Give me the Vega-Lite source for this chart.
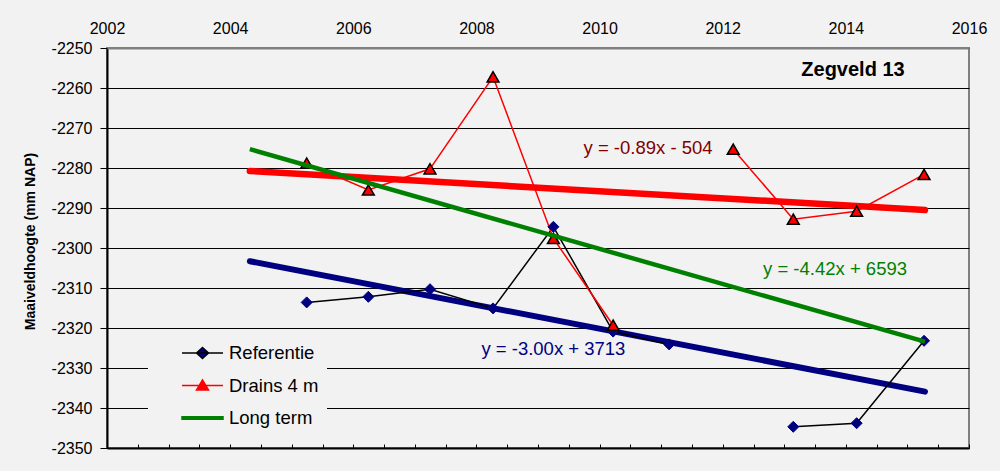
{
  "$schema": "https://vega.github.io/schema/vega-lite/v6.json",
  "width": 862,
  "height": 400,
  "autosize": {"type": "none"},
  "padding": {"left": 107, "top": 48, "right": 31, "bottom": 23},
  "background": "#f2f2f2",
  "config": {
    "view": {"stroke": "#808080", "strokeWidth": 2, "fill": "#f2f2f2"},
    "font": "Liberation Sans",
    "axis": {"labelFont": "Liberation Sans", "titleFont": "Liberation Sans", "labelColor": "black", "titleColor": "black"},
    "legend": {"labelFont": "Liberation Sans"}
  },
  "datasets": {
    "obs": [
      {"series": "Referentie", "seg": "a", "year": 2005.243, "value": -2313.6},
      {"series": "Referentie", "seg": "a", "year": 2006.245, "value": -2312.2},
      {"series": "Referentie", "seg": "a", "year": 2007.246, "value": -2310.3},
      {"series": "Referentie", "seg": "a", "year": 2008.27, "value": -2315.1},
      {"series": "Referentie", "seg": "a", "year": 2009.25, "value": -2294.7},
      {"series": "Referentie", "seg": "a", "year": 2010.22, "value": -2320.9},
      {"series": "Referentie", "seg": "a", "year": 2011.13, "value": -2324.1},
      {"series": "Referentie", "seg": "b", "year": 2013.146, "value": -2344.7},
      {"series": "Referentie", "seg": "b", "year": 2014.175, "value": -2343.8},
      {"series": "Referentie", "seg": "b", "year": 2015.27, "value": -2323.2},
      {"series": "Drains 4 m", "seg": "a", "year": 2005.243, "value": -2278.8},
      {"series": "Drains 4 m", "seg": "a", "year": 2006.245, "value": -2285.5},
      {"series": "Drains 4 m", "seg": "a", "year": 2007.246, "value": -2280.2},
      {"series": "Drains 4 m", "seg": "a", "year": 2008.27, "value": -2257.2},
      {"series": "Drains 4 m", "seg": "a", "year": 2009.25, "value": -2297.6},
      {"series": "Drains 4 m", "seg": "a", "year": 2010.22, "value": -2319.3},
      {"series": "Drains 4 m", "seg": "b", "year": 2012.17, "value": -2275.3},
      {"series": "Drains 4 m", "seg": "b", "year": 2013.146, "value": -2292.8},
      {"series": "Drains 4 m", "seg": "b", "year": 2014.175, "value": -2290.8},
      {"series": "Drains 4 m", "seg": "b", "year": 2015.27, "value": -2281.6}
    ],
    "trend": [
      {"trend": "Referentie", "year": 2004.32, "value": -2303.3},
      {"trend": "Referentie", "year": 2015.285, "value": -2335.9},
      {"trend": "Drains 4 m", "year": 2004.32, "value": -2280.75},
      {"trend": "Drains 4 m", "year": 2015.285, "value": -2290.5},
      {"trend": "Long term", "year": 2004.32, "value": -2275.3},
      {"trend": "Long term", "year": 2015.285, "value": -2323.4}
    ],
    "notes": [
      {"note": "Zegveld 13", "year": 2014.116, "value": -2257},
      {"note": "y = -0.89x - 504", "year": 2010.787, "value": -2274.9},
      {"note": "y = -4.42x + 6593", "year": 2013.824, "value": -2305.3},
      {"note": "y = -3.00x + 3713", "year": 2009.25, "value": -2325.3}
    ]
  },
  "resolve": {"axis": {"x": "independent", "y": "independent"}},
  "layer": [
    {
      "data": {"name": "trend"},
      "transform": [{"filter": "datum.trend === 'Referentie'"}],
      "mark": {"type": "line", "color": "#000080", "strokeWidth": 6, "strokeCap": "round"},
      "encoding": {
        "x": {"field": "year", "type": "quantitative",
              "scale": {"domain": [2002, 2016], "nice": false, "zero": false},
              "axis": {"orient": "top", "values": [2002, 2004, 2006, 2008, 2010, 2012, 2014, 2016],
                       "labelExpr": "'' + datum.value", "labelFontSize": 16, "ticks": false, "tickSize": 0,
                       "labelPadding": 12, "domain": true, "domainColor": "#808080", "domainWidth": 2, "zindex": 1,
                       "grid": false, "title": null, "labelFlush": false, "labelOverlap": false}},
        "y": {"field": "value", "type": "quantitative",
              "scale": {"domain": [-2350, -2250], "nice": false, "zero": false},
              "axis": {"orient": "left", "values": [-2250, -2260, -2270, -2280, -2290, -2300, -2310, -2320, -2330, -2340, -2350],
                       "labelExpr": "'' + datum.value", "labelFontSize": 16, "tickSize": 7, "tickColor": "black",
                       "labelPadding": 8, "domainColor": "black", "domainWidth": 2,
                       "grid": true, "gridWidth": 1, "gridColor": "black",
                       "title": "Maaiveldhoogte  (mm NAP)", "titleFontSize": 14, "titleFontWeight": "bold",
                       "titlePadding": 14, "titleY": 193, "labelOverlap": false}}
      }
    },
    {
      "data": {"name": "trend"},
      "transform": [{"filter": "datum.trend === 'Drains 4 m'"}],
      "mark": {"type": "line", "color": "#ff0000", "strokeWidth": 6.5, "strokeCap": "round"},
      "encoding": {
        "x": {"field": "year", "type": "quantitative",
              "axis": {"orient": "bottom", "values": [2002, 2002.5, 2003, 2003.5, 2004, 2004.5, 2005, 2005.5, 2006, 2006.5, 2007, 2007.5, 2008, 2008.5, 2009, 2009.5, 2010, 2010.5, 2011, 2011.5, 2012, 2012.5, 2013, 2013.5, 2014, 2014.5, 2015, 2015.5, 2016],
                       "labels": false, "ticks": true, "tickSize": -4, "tickColor": "black", "tickWidth": 1,
                       "domain": true, "domainColor": "black", "domainWidth": 2, "grid": false, "title": null}},
        "y": {"field": "value", "type": "quantitative", "axis": null}
      }
    },
    {
      "data": {"name": "obs"},
      "mark": {"type": "line", "strokeWidth": 1.5},
      "encoding": {
        "x": {"field": "year", "type": "quantitative", "axis": null},
        "y": {"field": "value", "type": "quantitative", "axis": null},
        "detail": {"field": "seg"},
        "color": {"field": "series", "type": "nominal",
                  "scale": {"domain": ["Referentie", "Drains 4 m", "Long term"], "range": ["#000000", "#ff0000", "#008000"]},
                  "legend": {
                    "orient": "none", "legendX": 41, "legendY": 286, "title": null,
                    "padding": 8, "fillColor": "#f2f2f2", "symbolOpacity": 1,
                    "symbolSize": 400, "symbolStrokeWidth": 1.5, "symbolOffset": 35.5,
                    "labelOffset": 15.5, "labelFontSize": 18.5, "labelColor": "black", "labelFont": "Liberation Sans",
                    "rowPadding": 11.5, "labelExpr": "datum.label + '    '"}}
      }
    },
    {
      "data": {"name": "obs"},
      "mark": {"type": "point", "filled": true, "opacity": 0},
      "encoding": {
        "x": {"field": "year", "type": "quantitative", "axis": null},
        "y": {"field": "value", "type": "quantitative", "axis": null},
        "shape": {"field": "series", "type": "nominal",
                  "scale": {"domain": ["Referentie", "Drains 4 m", "Long term"],
                            "range": ["M-2.05,0H2.05M-0.6,0L0,-0.55L0.6,0L0,0.55Z", "M-2.05,0H2.05M0,-0.55L0.6,0.45L-0.6,0.45Z", "M-2.05,-0.13H2.05V0.13H-2.05Z"]},
                  "legend": {
                    "orient": "none", "legendX": 41, "legendY": 286, "title": null,
                    "padding": 8, "fillColor": "#f2f2f2", "symbolOpacity": 1,
                    "symbolSize": 400, "symbolStrokeWidth": 1.5, "symbolOffset": 35.5,
                    "labelOffset": 15.5, "labelFontSize": 18.5, "labelColor": "black", "labelFont": "Liberation Sans",
                    "rowPadding": 11.5, "labelExpr": "datum.label + '    '"}},
        "fill": {"field": "series", "type": "nominal",
                  "scale": {"domain": ["Referentie", "Drains 4 m", "Long term"], "range": ["#000080", "#ff0000", "#008000"]},
                  "legend": {
                    "orient": "none", "legendX": 41, "legendY": 286, "title": null,
                    "padding": 8, "fillColor": "#f2f2f2", "symbolOpacity": 1,
                    "symbolSize": 400, "symbolStrokeWidth": 1.5, "symbolOffset": 35.5,
                    "labelOffset": 15.5, "labelFontSize": 18.5, "labelColor": "black", "labelFont": "Liberation Sans",
                    "rowPadding": 11.5, "labelExpr": "datum.label + '    '"}}
      }
    },
    {
      "data": {"name": "obs"},
      "transform": [{"filter": "datum.series === 'Referentie'"}],
      "mark": {"type": "point", "shape": "diamond", "filled": true, "fill": "#000080", "stroke": "#000080", "strokeWidth": 1, "size": 121, "opacity": 1},
      "encoding": {
        "x": {"field": "year", "type": "quantitative", "axis": null},
        "y": {"field": "value", "type": "quantitative", "axis": null}
      }
    },
    {
      "data": {"name": "obs"},
      "transform": [{"filter": "datum.series === 'Drains 4 m'"}],
      "mark": {"type": "point", "shape": "triangle-up", "filled": true, "fill": "#ff0000", "stroke": "#000000", "strokeWidth": 1.5, "size": 140, "opacity": 1},
      "encoding": {
        "x": {"field": "year", "type": "quantitative", "axis": null},
        "y": {"field": "value", "type": "quantitative", "axis": null}
      }
    },
    {
      "data": {"name": "trend"},
      "transform": [{"filter": "datum.trend === 'Long term'"}],
      "mark": {"type": "line", "color": "#008000", "strokeWidth": 4.5, "strokeCap": "butt"},
      "encoding": {
        "x": {"field": "year", "type": "quantitative", "axis": null},
        "y": {"field": "value", "type": "quantitative", "axis": null}
      }
    },
    {
      "data": {"name": "notes"},
      "transform": [{"filter": "datum.note === 'Zegveld 13'"}],
      "mark": {"type": "text", "font": "Liberation Sans", "fontSize": 20, "fontWeight": "bold", "color": "#000000", "align": "center", "baseline": "alphabetic"},
      "encoding": {
        "x": {"field": "year", "type": "quantitative", "axis": null},
        "y": {"field": "value", "type": "quantitative", "axis": null},
        "text": {"field": "note"}
      }
    },
    {
      "data": {"name": "notes"},
      "transform": [{"filter": "datum.note === 'y = -0.89x - 504'"}],
      "mark": {"type": "text", "font": "Liberation Sans", "fontSize": 18.5, "color": "#800000", "align": "center", "baseline": "middle"},
      "encoding": {
        "x": {"field": "year", "type": "quantitative", "axis": null},
        "y": {"field": "value", "type": "quantitative", "axis": null},
        "text": {"field": "note"}
      }
    },
    {
      "data": {"name": "notes"},
      "transform": [{"filter": "datum.note === 'y = -4.42x + 6593'"}],
      "mark": {"type": "text", "font": "Liberation Sans", "fontSize": 18.5, "color": "#008000", "align": "center", "baseline": "middle"},
      "encoding": {
        "x": {"field": "year", "type": "quantitative", "axis": null},
        "y": {"field": "value", "type": "quantitative", "axis": null},
        "text": {"field": "note"}
      }
    },
    {
      "data": {"name": "notes"},
      "transform": [{"filter": "datum.note === 'y = -3.00x + 3713'"}],
      "mark": {"type": "text", "font": "Liberation Sans", "fontSize": 18.5, "color": "#000080", "align": "center", "baseline": "middle"},
      "encoding": {
        "x": {"field": "year", "type": "quantitative", "axis": null},
        "y": {"field": "value", "type": "quantitative", "axis": null},
        "text": {"field": "note"}
      }
    }
  ]
}
